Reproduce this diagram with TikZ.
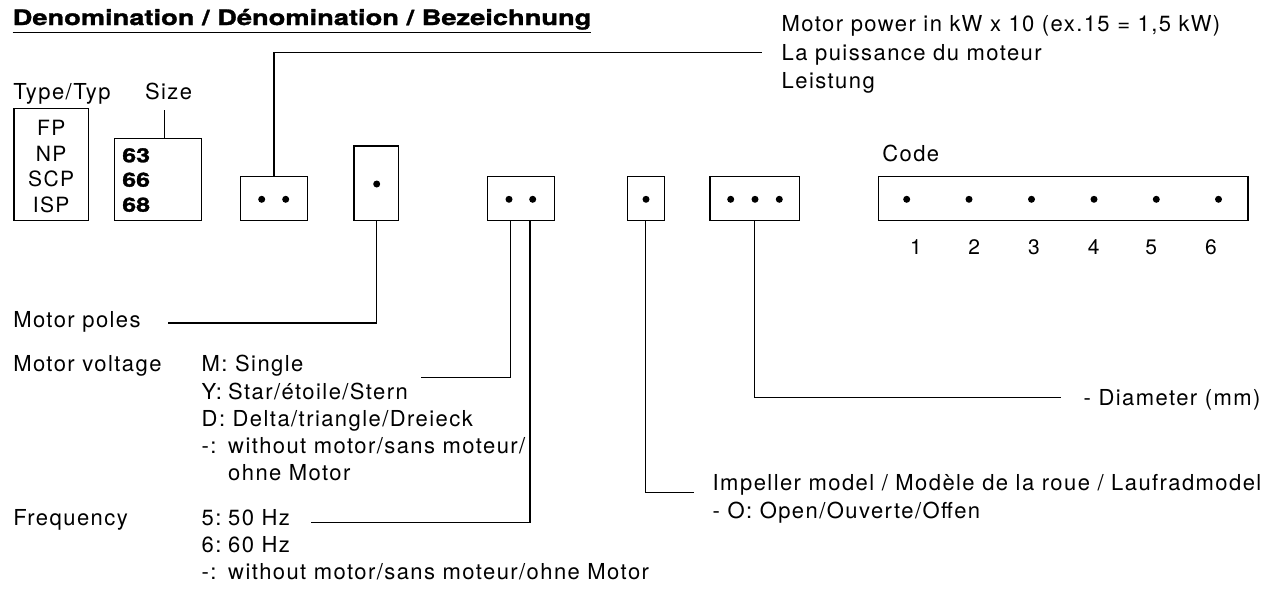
\documentclass[tikz,border=0pt]{standalone}
\usepackage{fontspec}
\setmainfont[LetterSpace=6.5]{TeX Gyre Heros}
\newfontfamily\blackfont[FakeStretch=1.28,FakeBold=1.5]{TeX Gyre Heros}
\newcommand{\pfx}[2][26.5pt]{\makebox[#1][l]{#2}}
\begin{document}
\begin{tikzpicture}[x=1pt,y=-1pt,
  every node/.style={inner sep=0pt,outer sep=0pt},
  txt/.style={anchor=base west,font=\fontsize{22}{26}\selectfont},
  boxtxt/.style={anchor=base,font=\fontsize{21}{24}\selectfont},
  numtxt/.style={anchor=base west,font=\blackfont\bfseries\fontsize{19.5}{22}\selectfont},
  codebox/.style={draw,line width=1.3pt,rectangle},
  link/.style={line width=1.3pt},
  dot/.style={fill=black}]
\useasboundingbox (0,0) rectangle (1262,590);

% heading
\node[anchor=base west,font=\blackfont\bfseries\fontsize{21.3}{24}\selectfont] (title) at (12.7,25)
  {Denomination / Dénomination / Bezeichnung};
\draw[line width=1.5pt] ([yshift=-7.7pt]title.base west) -- ([yshift=-7.7pt]title.base east);

% type
\node[txt] (typlbl) at (13.3,99) {Type/Typ};
\node[codebox,minimum width=74.3pt,minimum height=112pt] (typbox) at (51.15,164.7) {};
\node[boxtxt] (tFP)  at (51.2,135)   {FP};
\node[boxtxt] (tNP)  at (51.2,161)   {NP};
\node[boxtxt] (tSCP) at (51.2,186.7) {SCP};
\node[boxtxt] (tISP) at (51.2,212.3) {ISP};

% size
\node[txt] (sizelbl) at (145,99) {Size};
\node[codebox,minimum width=87.4pt,minimum height=82pt] (sizebox) at (158,179.7) {};
\node[numtxt] (s63) at (122.3,162.3) {63};
\node[numtxt] (s66) at (122.3,186.7) {66};
\node[numtxt] (s68) at (122.3,211.7) {68};
\coordinate (sizetop) at (164.3,110);
\draw[link] (sizetop) -- (sizetop |- sizebox.north);

% position boxes
\node[codebox,minimum width=66.6pt,minimum height=44pt] (powbox) at (274,198.7) {};
\node[codebox,minimum width=44.7pt,minimum height=74.7pt] (polebox) at (376.35,183.35) {};
\node[codebox,minimum width=67pt,minimum height=44pt] (voltbox) at (521.2,198.7) {};
\node[codebox,minimum width=37pt,minimum height=44pt] (impbox) at (645.8,198.7) {};
\node[codebox,minimum width=89.3pt,minimum height=44pt] (diabox) at (754.65,198.7) {};
\node[codebox,minimum width=369.3pt,minimum height=44pt] (cbox) at (1063.35,198.7) {};

% dots
\foreach \x in {261.7,285.7,509,532.7,646,730.7,755,779.3,906.7,969,1031.5,1094,1156.3,1218.5}
  \fill[dot] (\x,199.3) circle (3.5pt);
\fill[dot] (376.7,184) circle (3.5pt);

% code
\node[txt] (codelbl) at (882.3,161.7) {Code};
\foreach \n/\x in {1/916,2/974.3,3/1034,4/1093.7,5/1151.3,6/1211}
  \node[boxtxt] (c\n) at (\x,254) {\n};

% motor power
\coordinate (powend) at (761.7,52.3);
\draw[link] (powbox.north) |- (powend);
\node[txt] (pow1) at (781.7,31.7) {Motor power in kW x 10 (ex.15 = 1,5 kW)};
\node[txt] (pow2) at (781.7,60.3) {La puissance du moteur};
\node[txt] (pow3) at (781.7,88.3) {Leistung};

% motor poles
\coordinate (poleend) at (167.7,323);
\draw[link] (polebox.south) |- (poleend);
\node[txt] (polelbl) at (13.3,327.3) {Motor poles};

% motor voltage
\coordinate (voltend) at (420.7,377.3);
\draw[link] ([xshift=-10.9pt]voltbox.south) |- (voltend);
\node[txt] (voltlbl) at (13.3,371.7) {Motor voltage};
\node[txt] (v1) at (201.7,371.7) {M: Single};
\node[txt] (v2) at (201.7,399)   {\pfx{Y:}Star/étoile/Stern};
\node[txt] (v3) at (201.7,426)   {D: Delta/triangle/Dreieck};
\node[txt] (v4) at (201.7,453.3) {\pfx{-:}without motor/sans moteur/};
\node[txt] (v5) at (228.2,480.7) {ohne Motor};

% frequency
\coordinate (freqend) at (311,522.7);
\draw[link] ([xshift=8.8pt]voltbox.south) |- (freqend);
\node[txt] (freqlbl) at (13.3,525) {Frequency};
\node[txt] (f1) at (201.7,525)   {\pfx{5:}50 Hz};
\node[txt] (f2) at (201.7,552.3) {\pfx{6:}60 Hz};
\node[txt] (f3) at (201.7,579.6) {\pfx{-:}without motor/sans moteur/ohne Motor};

% impeller
\coordinate (impend) at (694,492.3);
\draw[link] (impbox.south) |- (impend);
\node[txt] (imp1) at (712.7,490)   {Impeller model / Modèle de la roue / Laufradmodel};
\node[txt] (imp2) at (712.7,518.3) {- O: Open/Ouverte/Offen};

% diameter
\coordinate (diaend) at (1061.3,397.3);
\draw[link] (diabox.south) |- (diaend);
\node[txt] (dialbl) at (1083.7,405.7) {- Diameter (mm)};
\end{tikzpicture}
\end{document}
